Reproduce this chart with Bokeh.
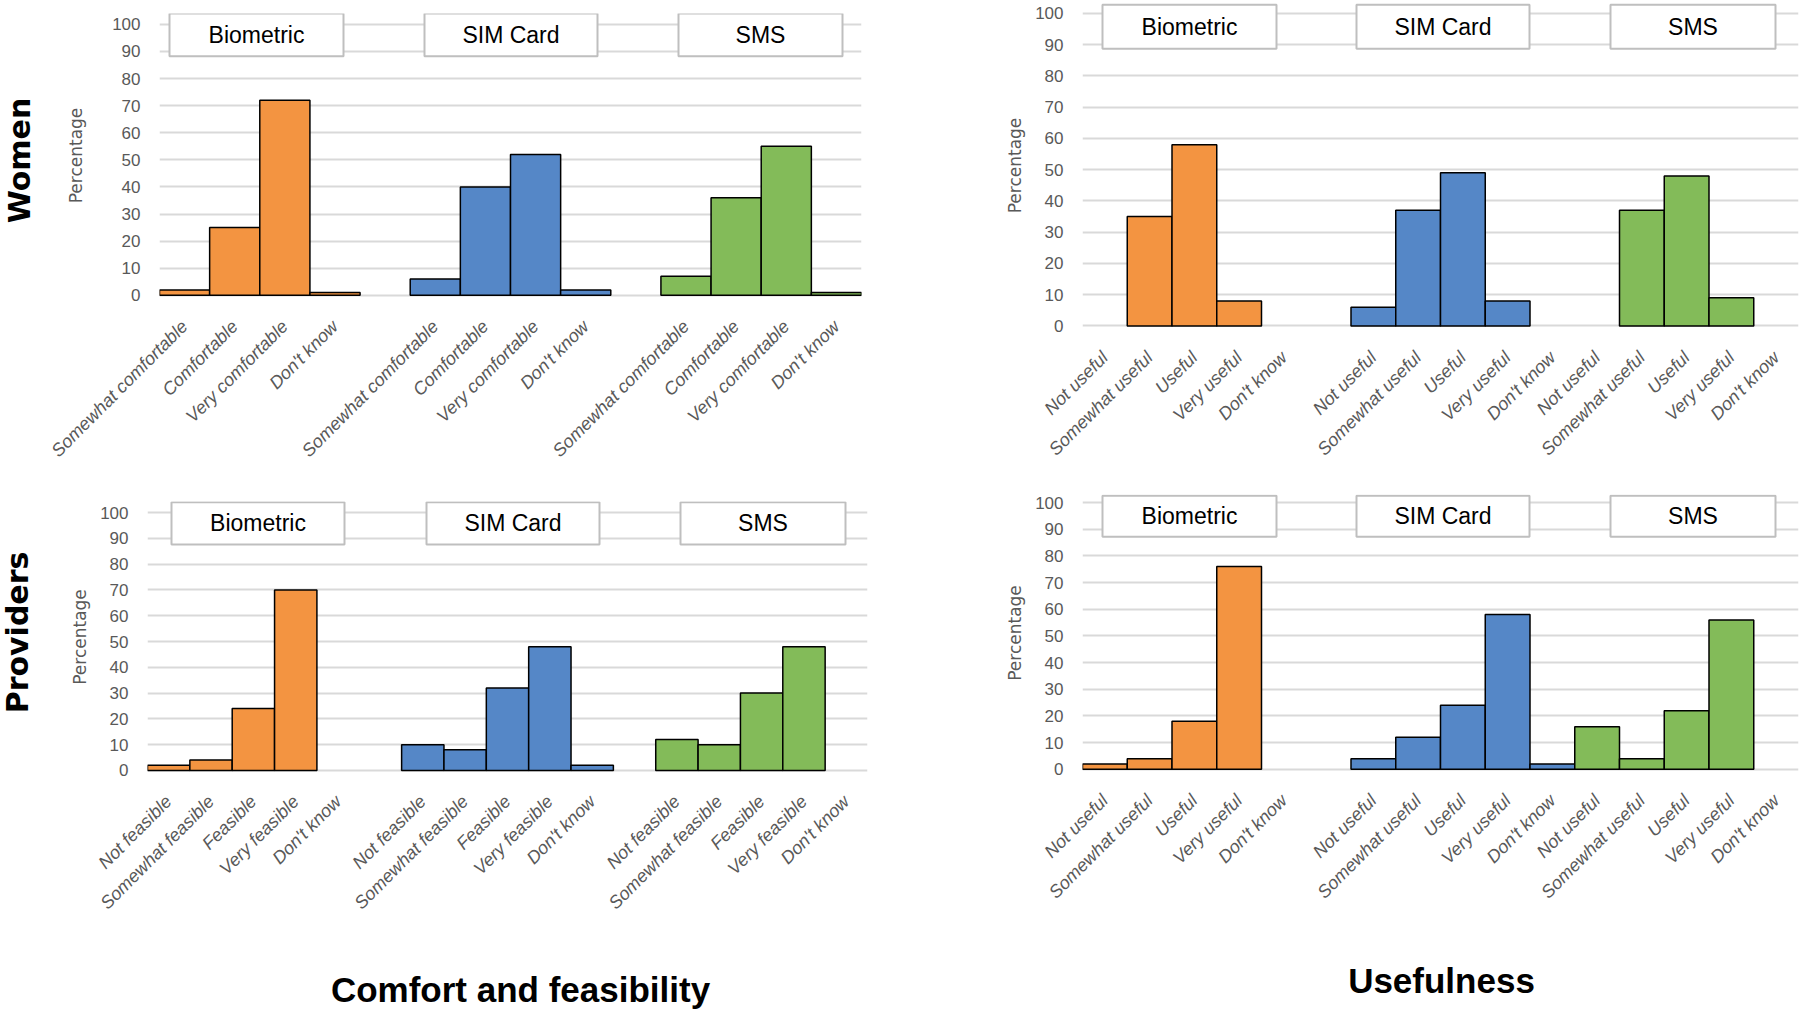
from bokeh.plotting import figure
from bokeh.layouts import column, row
from bokeh.models import Range1d, FixedTicker, ColumnDataSource
from bokeh.core.properties import value
from bokeh.embed import file_html
from bokeh.resources import INLINE

# ---------------- data ----------------
groups = ["Biometric", "SIM Card", "SMS"]
group_colors = ["#F39441", "#5587C7", "#83BB59"]

comfort_cats = ["Somewhat comfortable", "Comfortable", "Very comfortable", "Don't know"]
comfort_women_biometric = [2, 25, 72, 1]
comfort_women_sim = [6, 40, 52, 2]
comfort_women_sms = [7, 36, 55, 1]

useful_cats = ["Not useful", "Somewhat useful", "Useful", "Very useful", "Don't know"]
useful_women_biometric = [0, 35, 58, 8, 0]
useful_women_sim = [6, 37, 49, 8, 0]
useful_women_sms = [0, 37, 48, 9, 0]

feasible_cats = ["Not feasible", "Somewhat feasible", "Feasible", "Very feasible", "Don't know"]
feasible_prov_biometric = [2, 4, 24, 70, 0]
feasible_prov_sim = [10, 8, 32, 48, 2]
feasible_prov_sms = [12, 10, 30, 48, 0]

useful_prov_biometric = [2, 4, 18, 76, 0]
useful_prov_sim = [4, 12, 24, 58, 2]
useful_prov_sms = [16, 4, 22, 56, 0]

y_ticks = [0, 10, 20, 30, 40, 50, 60, 70, 80, 90, 100]

row_headings = ["Women", "Providers"]
column_headings = ["Comfort and feasibility", "Usefulness"]

GRAY_TXT = "#595959"
FONT = "Liberation Sans"


def make_panel(cats, series, gaps, width, height, borders, y_end,
               box_x, box_y, ylab_standoff):
    xs_all, labels_all = [], []
    per_group = []
    x = 0
    for gi, vals in enumerate(series):
        gx, gv = [], []
        for ci, v in enumerate(vals):
            xs_all.append(x)
            labels_all.append(cats[ci])
            if v > 0:
                gx.append(x)
                gv.append(v)
            x += 1
        per_group.append((gx, gv))
        if gi < len(gaps):
            x += gaps[gi]
    n_slots = x

    bl, br, bt, bb = borders
    p = figure(width=width, height=height, title=None,
               x_range=Range1d(-0.5, n_slots - 0.5), y_range=Range1d(-0.8, y_end),
               output_backend="svg", toolbar_location=None,
               min_border_left=bl, min_border_right=br,
               min_border_top=bt, min_border_bottom=bb)
    p.outline_line_color = None
    p.background_fill_color = "white"
    p.border_fill_color = "white"
    p.xgrid.visible = False
    p.ygrid.grid_line_color = "#D9D9D9"
    p.ygrid.grid_line_width = 2

    p.yaxis.ticker = FixedTicker(ticks=y_ticks, minor_ticks=[])
    p.yaxis.axis_line_color = None
    p.yaxis.major_tick_line_color = None
    p.yaxis.minor_tick_line_color = None
    p.yaxis.major_label_text_font = FONT
    p.yaxis.major_label_text_font_size = "17px"
    p.yaxis.major_label_text_color = GRAY_TXT
    p.yaxis.major_label_standoff = 13
    p.yaxis.axis_label = "Percentage"
    p.yaxis.axis_label_text_font = "DejaVu Sans"
    p.yaxis.axis_label_text_font_size = "17px"
    p.yaxis.axis_label_text_font_style = "normal"
    p.yaxis.axis_label_text_color = GRAY_TXT
    p.yaxis.axis_label_standoff = ylab_standoff

    p.xaxis.ticker = FixedTicker(ticks=xs_all, minor_ticks=[])
    p.xaxis.major_label_overrides = {xv: lab for xv, lab in zip(xs_all, labels_all)}
    p.xaxis.major_label_orientation = 0.785398
    p.xaxis.axis_line_color = None
    p.xaxis.major_tick_line_color = None
    p.xaxis.minor_tick_line_color = None
    p.xaxis.major_label_text_font = FONT
    p.xaxis.major_label_text_font_size = "18px"
    p.xaxis.major_label_text_font_style = "italic"
    p.xaxis.major_label_text_color = GRAY_TXT
    p.xaxis.major_label_standoff = 20

    for gi, (gx, gv) in enumerate(per_group):
        src = ColumnDataSource(dict(x=gx, top=gv))
        p.vbar(x="x", top="top", bottom=0, width=1.0, source=src,
               fill_color=group_colors[gi], line_color="black", line_width=1.5)

    lefts = [b[0] for b in box_x]
    rights = [b[1] for b in box_x]
    p.quad(left=lefts, right=rights, bottom=[box_y[0]] * 3, top=[box_y[1]] * 3,
           fill_color="white", line_color="#BFBFBF", line_width=2)
    p.text(x=[(a + b) / 2 for a, b in box_x], y=[(box_y[0] + box_y[1]) / 2] * 3,
           text=groups, text_align="center", text_baseline="middle",
           text_font=value(FONT), text_font_size="23px", text_color="black")
    return p


def text_panel(width, height, txt, tx, ty, angle, size, font, baseline):
    p = figure(width=width, height=height, title=None,
               x_range=Range1d(0, width), y_range=Range1d(height, 0),
               x_axis_type=None, y_axis_type=None,
               output_backend="svg", toolbar_location=None,
               min_border_left=0, min_border_right=0, min_border_top=0, min_border_bottom=0)
    p.outline_line_color = None
    p.grid.visible = False
    p.text(x=[tx], y=[ty], text=[txt], angle=angle, text_align="center",
           text_baseline=baseline, text_font=value(font), text_font_size=size,
           text_font_style="bold", text_color="black")
    return p


def px2x(px, frame_left, slot_w):
    return (px - frame_left) / slot_w - 0.5


def boxes(px_list, frame_left, slot_w):
    return [(px2x(a, frame_left, slot_w), px2x(b, frame_left, slot_w)) for a, b in px_list]


# frame geometry (screen pixels)
HEAD_W = 40
ROW1_H, ROW2_H, ROW3_H = 480, 460, 70
TL_L, TL_R = 159, 861
TR_L, TR_R = 1082, 1798
BL_L, BL_R = 147, 867
tl_slot = (TL_R - TL_L) / 14
tr_slot = (TR_R - TR_L) / 16
bl_slot = (BL_R - BL_L) / 17

p_tl = make_panel(comfort_cats, [comfort_women_biometric, comfort_women_sim, comfort_women_sms],
                  [1, 1], 900 - HEAD_W, ROW1_H, (TL_L - HEAD_W, 900 - TL_R, 13, 183), 104.0,
                  boxes([(169, 343), (424, 597), (678, 842)], TL_L, tl_slot), (88.2, 104.0), 23)

p_tr = make_panel(useful_cats, [useful_women_biometric, useful_women_sim, useful_women_sms],
                  [1, 0], 900, ROW1_H, (TR_L - 900, 1800 - TR_R, 2, 152), 103.5,
                  boxes([(1102, 1276), (1356, 1529), (1610, 1775)], TR_L, tr_slot), (88.7, 102.8), 7)

p_bl = make_panel(feasible_cats, [feasible_prov_biometric, feasible_prov_sim, feasible_prov_sms],
                  [1, 1], 900 - HEAD_W, ROW2_H, (BL_L - HEAD_W, 900 - BL_R, 21, 168), 104.3,
                  boxes([(171, 344), (426, 599), (680, 845)], BL_L, bl_slot), (87.6, 104.0), 7)

p_br = make_panel(useful_cats, [useful_prov_biometric, useful_prov_sim, useful_prov_sms],
                  [1, 0], 900, ROW2_H, (TR_L - 900, 1800 - TR_R, 14, 169), 103.0,
                  boxes([(1102, 1276), (1356, 1529), (1610, 1775)], TR_L, tr_slot), (87.2, 102.5), 7)

h_women = text_panel(HEAD_W, ROW1_H, row_headings[0], 19, 160, 1.5708, "30px", "DejaVu Sans", "middle")
h_prov = text_panel(HEAD_W, ROW2_H, row_headings[1], 17, 632 - ROW1_H, 1.5708, "30px", "DejaVu Sans", "middle")
h_comfort = text_panel(900, ROW3_H, column_headings[0], 520, 989 - ROW1_H - ROW2_H, 0, "35px", FONT, "alphabetic")
h_useful = text_panel(900, ROW3_H, column_headings[1], 1441 - 900, 980 - ROW1_H - ROW2_H, 0, "35px", FONT, "alphabetic")

layout = column(
    row(column(h_women), column(p_tl), column(p_tr)),
    row(column(h_prov), column(p_bl), column(p_br)),
    row(column(h_comfort), column(h_useful)),
)

open("out.html", "w").write(file_html(layout, INLINE))
